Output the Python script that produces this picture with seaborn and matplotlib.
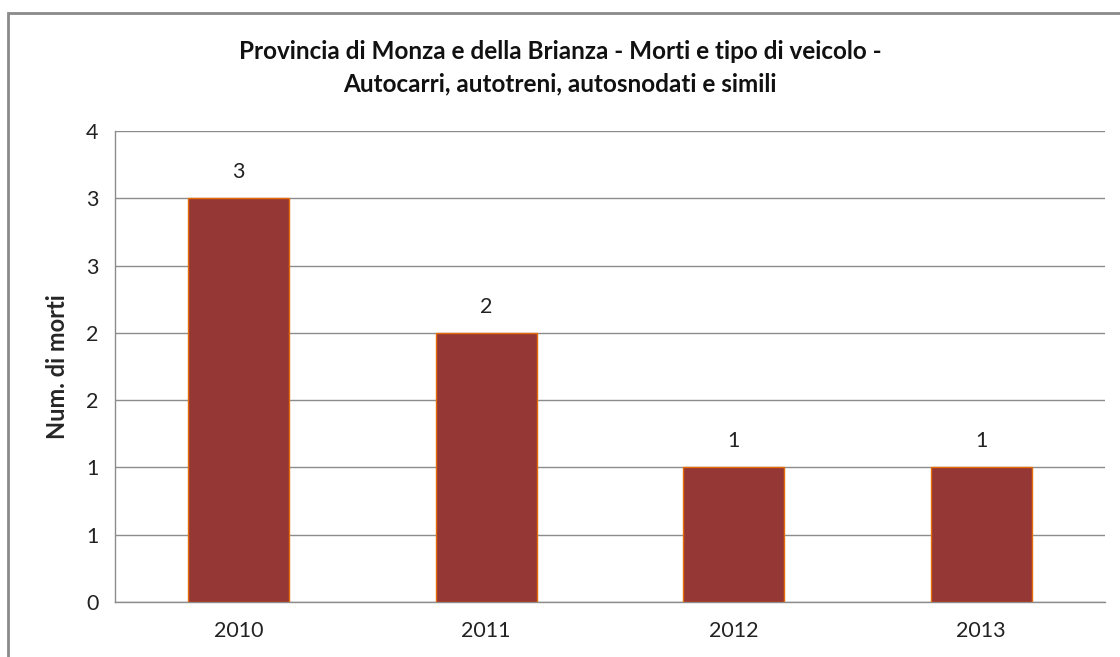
import matplotlib
matplotlib.use("Agg")
import matplotlib.pyplot as plt
import seaborn as sns
import pandas as pd
from matplotlib.patches import Rectangle

years = ["2010", "2011", "2012", "2013"]
deaths = [3, 2, 1, 1]
y_ticks = [0, 0.5, 1, 1.5, 2, 2.5, 3, 3.5]
y_tick_labels = ["0", "1", "1", "2", "2", "3", "3", "4"]
title = "Provincia di Monza e della Brianza - Morti e tipo di veicolo -\nAutocarri, autotreni, autosnodati e simili"

sns.set_style("white")
plt.rcParams["font.family"] = ["Lato", "DejaVu Sans"]

df = pd.DataFrame({"anno": years, "morti": deaths})

fig = plt.figure(figsize=(11.2, 6.57), dpi=100)
ax = fig.add_axes([115 / 1120, 55 / 657, 990 / 1120, 471 / 657])

sns.barplot(data=df, x="anno", y="morti", color="#953735", saturation=1,
            width=0.41, edgecolor="#E46C0A", linewidth=1, ax=ax, zorder=3)

ax.set_ylim(0, 3.5)
ax.set_xlim(-0.5, 3.5)
ax.set_yticks(y_ticks)
ax.set_yticklabels(y_tick_labels)
ax.grid(axis="y", color="#8c8c8c", linewidth=1, zorder=0)
ax.set_axisbelow(True)

for i, v in enumerate(deaths):
    ax.text(i, v + 0.12, str(v), ha="center", va="bottom", fontsize=15.5, color="#222222")

# category boundary ticks on x axis
ax.set_xticks([0, 1, 2, 3])
ax.set_xticklabels(years, fontsize=15.5, color="#222222")
ax.set_xticks([-0.5, 0.5, 1.5, 2.5, 3.5], minor=True)
ax.tick_params(axis="x", which="major", length=0, pad=14)
ax.tick_params(axis="x", which="minor", length=6, color="#8c8c8c", direction="out")
ax.tick_params(axis="y", length=5, color="#8c8c8c", direction="out", labelsize=15.5,
               labelcolor="#222222", pad=7)

for s in ["top", "right"]:
    ax.spines[s].set_visible(False)
for s in ["left", "bottom"]:
    ax.spines[s].set_color("#8c8c8c")
    ax.spines[s].set_linewidth(1)

ax.set_xlabel("")
ax.set_ylabel("Num. di morti", fontsize=17, fontweight="bold", labelpad=12)

fig.text(0.5, 0.897, title, ha="center", va="center", fontsize=17.5,
         fontweight="bold", linespacing=1.5, color="#111111")

fig.patches.append(Rectangle((8 / 1120, -0.1), 1.2, (657 - 13) / 657 + 0.1,
                             transform=fig.transFigure, fill=False,
                             edgecolor="#8a8a8a", linewidth=2))

fig.savefig("out.png", dpi=100)
